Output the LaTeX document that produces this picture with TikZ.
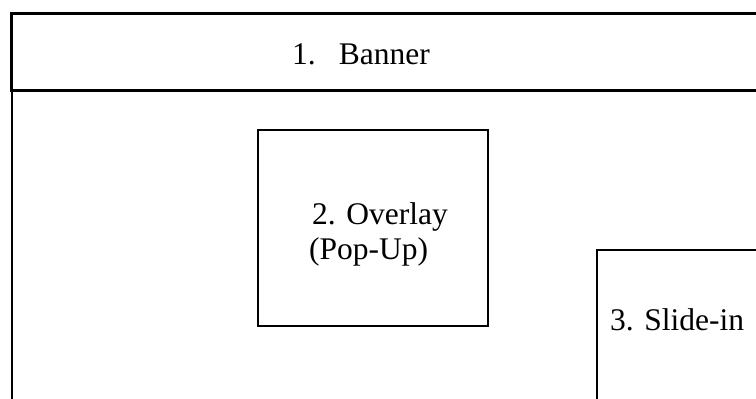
\documentclass[tikz,border=0pt]{standalone}
\usepackage{fontspec}
\setmainfont{Liberation Serif}
\begin{document}
\begin{tikzpicture}[x=1pt,y=-1pt,
  boxline/.style={draw=black,line width=2pt},
  label/.style={inner sep=0pt,anchor=base west,font=\fontsize{31.5}{35}\selectfont}]
\useasboundingbox (0,0) rectangle (756,399);
\clip (0,0) rectangle (756,399);
% banner strip
\draw[line width=3pt] (760,13.5) -- (11.5,13.5) -- (11.5,90.5) -- (760,90.5);
% page frame left edge
\draw[line width=2pt] (12,90) -- (12,402);
% overlay box
\draw[boxline] (257.5,129.5) rectangle (488,325.5);
% slide-in box
\draw[boxline] (597,402) -- (597,250) -- (760,250);
\node[label] (banner) at (292,64) {1.\hspace{23pt}Banner};
\node[label,align=left] (overlay) at (312,259) {2. Overlay\\\hspace*{-3pt}(Pop-Up)};
\node[label] (slidein) at (610,330) {3. Slide-in};
\end{tikzpicture}
\end{document}
